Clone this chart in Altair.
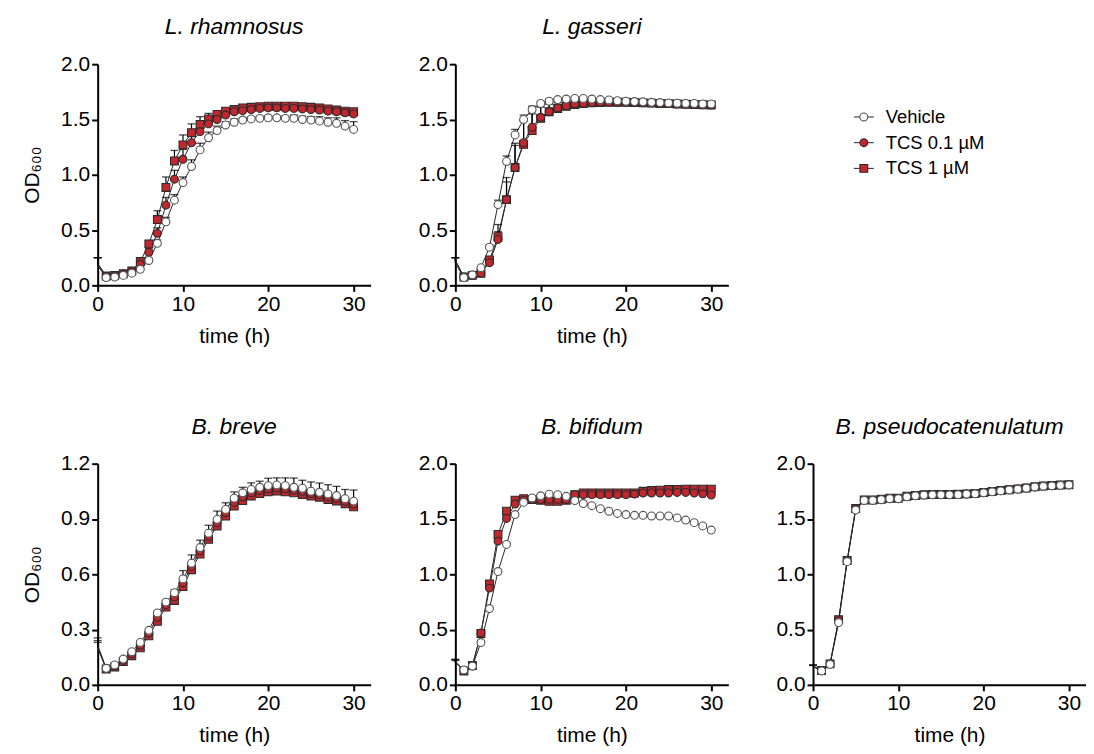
import altair as alt
import pandas as pd

HOURS = list(range(31))
SERIES = ["Vehicle", "TCS 0.1 µM", "TCS 1 µM"]
TITLES = ["L. rhamnosus", "L. gasseri", "B. breve", "B. bifidum", "B. pseudocatenulatum"]

# ---- L. rhamnosus ----
rham_veh = [0.18, 0.07, 0.075, 0.09, 0.11, 0.145, 0.225, 0.38, 0.575, 0.77, 0.93, 1.075, 1.225, 1.335, 1.40, 1.45,
            1.475, 1.495, 1.505, 1.51, 1.515, 1.515, 1.51, 1.51, 1.50, 1.495, 1.485, 1.475, 1.465, 1.44, 1.41]
rham_veh_sd = [0.07, 0.01, 0.01, 0.01, 0.01, 0.01, 0.02, 0.03, 0.04, 0.05, 0.05, 0.06, 0.06, 0.05, 0.04, 0.03,
               0.03, 0.02, 0.02, 0.02, 0.02, 0.02, 0.02, 0.03, 0.03, 0.03, 0.04, 0.04, 0.05, 0.05, 0.07]
rham_t01 = [0.19, 0.08, 0.085, 0.10, 0.125, 0.19, 0.30, 0.47, 0.725, 0.96, 1.14, 1.29, 1.39, 1.46, 1.50, 1.54,
            1.57, 1.58, 1.59, 1.60, 1.605, 1.605, 1.60, 1.60, 1.595, 1.59, 1.585, 1.575, 1.57, 1.56, 1.55]
rham_t01_sd = [0.06, 0.01, 0.01, 0.01, 0.01, 0.02, 0.03, 0.05, 0.07, 0.08, 0.09, 0.08, 0.07, 0.05, 0.04, 0.03,
               0.03, 0.02, 0.02, 0.02, 0.02, 0.02, 0.02, 0.02, 0.02, 0.02, 0.02, 0.02, 0.02, 0.02, 0.02]
rham_t1 = [0.20, 0.085, 0.09, 0.105, 0.13, 0.215, 0.375, 0.595, 0.885, 1.125, 1.27, 1.38, 1.455, 1.505, 1.545, 1.575,
           1.59, 1.605, 1.61, 1.615, 1.62, 1.62, 1.62, 1.62, 1.615, 1.61, 1.605, 1.595, 1.585, 1.575, 1.57]
rham_t1_sd = [0.05, 0.01, 0.01, 0.01, 0.01, 0.02, 0.03, 0.08, 0.095, 0.095, 0.09, 0.08, 0.07, 0.05, 0.03, 0.02,
              0.02, 0.02, 0.02, 0.02, 0.02, 0.02, 0.02, 0.02, 0.02, 0.02, 0.02, 0.02, 0.02, 0.02, 0.02]

# ---- L. gasseri ----
gass_veh = [0.20, 0.07, 0.095, 0.16, 0.345, 0.73, 1.12, 1.36, 1.50, 1.59, 1.645, 1.665, 1.68, 1.685, 1.69, 1.69,
            1.685, 1.68, 1.677, 1.67, 1.665, 1.662, 1.66, 1.655, 1.653, 1.65, 1.647, 1.645, 1.645, 1.64, 1.64]
gass_veh_sd = [0.05, 0.01, 0.01, 0.01, 0.02, 0.04, 0.05, 0.05, 0.04, 0.03, 0.02, 0.02, 0.01, 0.01, 0.01, 0.01,
               0.01, 0.01, 0.01, 0.01, 0.01, 0.01, 0.01, 0.01, 0.01, 0.01, 0.01, 0.01, 0.01, 0.01, 0.01]
gass_t01 = [0.22, 0.075, 0.09, 0.11, 0.205, 0.415, 0.775, 1.065, 1.29, 1.43, 1.52, 1.57, 1.605, 1.625, 1.64, 1.647,
            1.653, 1.655, 1.655, 1.655, 1.655, 1.653, 1.65, 1.648, 1.645, 1.643, 1.64, 1.638, 1.635, 1.633, 1.63]
gass_t01_sd = [0.03, 0.01, 0.01, 0.01, 0.03, 0.07, 0.16, 0.20, 0.20, 0.14, 0.10, 0.07, 0.05, 0.03, 0.02, 0.01,
               0.01, 0.01, 0.01, 0.01, 0.01, 0.01, 0.01, 0.01, 0.01, 0.01, 0.01, 0.01, 0.01, 0.01, 0.01]
gass_t1 = [0.23, 0.075, 0.09, 0.11, 0.23, 0.44, 0.775, 1.065, 1.275, 1.40, 1.51, 1.57, 1.60, 1.62, 1.635, 1.645,
           1.65, 1.653, 1.655, 1.655, 1.655, 1.653, 1.65, 1.648, 1.645, 1.643, 1.64, 1.638, 1.635, 1.633, 1.63]
gass_t1_sd = [0.02, 0.01, 0.01, 0.01, 0.03, 0.11, 0.20, 0.22, 0.21, 0.15, 0.10, 0.07, 0.05, 0.03, 0.02, 0.01,
              0.01, 0.01, 0.01, 0.01, 0.01, 0.01, 0.01, 0.01, 0.01, 0.01, 0.01, 0.01, 0.01, 0.01, 0.01]

# ---- B. breve ----
brev_veh = [0.215, 0.09, 0.108, 0.14, 0.18, 0.23, 0.296, 0.39, 0.449, 0.50, 0.575, 0.66, 0.745, 0.823, 0.898, 0.952,
            1.013, 1.042, 1.06, 1.072, 1.081, 1.085, 1.081, 1.072, 1.067, 1.051, 1.045, 1.036, 1.027, 1.01, 0.997]
brev_veh_sd = [0.04, 0.01, 0.01, 0.01, 0.01, 0.01, 0.01, 0.01, 0.01, 0.015, 0.045, 0.045, 0.04, 0.043, 0.045, 0.036,
               0.034, 0.03, 0.036, 0.033, 0.04, 0.038, 0.042, 0.05, 0.043, 0.05, 0.05, 0.05, 0.05, 0.05, 0.06]
brev_t01 = [0.21, 0.088, 0.102, 0.133, 0.169, 0.215, 0.28, 0.367, 0.435, 0.478, 0.553, 0.642, 0.727, 0.806, 0.88, 0.934,
            0.99, 1.02, 1.042, 1.055, 1.064, 1.068, 1.064, 1.057, 1.05, 1.038, 1.031, 1.021, 1.012, 0.996, 0.981]
brev_t01_sd = [0.03, 0.01, 0.01, 0.01, 0.01, 0.01, 0.01, 0.01, 0.01, 0.01, 0.02, 0.02, 0.02, 0.02, 0.02, 0.02,
               0.02, 0.02, 0.02, 0.02, 0.02, 0.02, 0.02, 0.02, 0.02, 0.02, 0.02, 0.02, 0.02, 0.02, 0.02]
brev_t1 = [0.20, 0.086, 0.097, 0.126, 0.158, 0.201, 0.266, 0.345, 0.422, 0.458, 0.533, 0.625, 0.71, 0.79, 0.862, 0.916,
           0.97, 1.0, 1.024, 1.038, 1.047, 1.051, 1.047, 1.042, 1.033, 1.024, 1.018, 1.006, 0.997, 0.983, 0.966]
brev_t1_sd = [0.03, 0.01, 0.01, 0.01, 0.01, 0.01, 0.01, 0.01, 0.01, 0.01, 0.02, 0.02, 0.02, 0.02, 0.02, 0.02,
              0.02, 0.02, 0.02, 0.02, 0.02, 0.02, 0.02, 0.02, 0.02, 0.02, 0.02, 0.02, 0.02, 0.02, 0.02]

# ---- B. bifidum ----
bifi_veh = [0.20, 0.135, 0.17, 0.383, 0.69, 1.025, 1.27, 1.54, 1.65, 1.69, 1.71, 1.725, 1.72, 1.705, 1.667, 1.64,
            1.62, 1.593, 1.57, 1.55, 1.54, 1.533, 1.533, 1.527, 1.527, 1.527, 1.51, 1.49, 1.467, 1.437, 1.40]
bifi_veh_sd = [0.02, 0.01, 0.01, 0.01, 0.01, 0.01, 0.01, 0.01, 0.01, 0.01, 0.01, 0.01, 0.01, 0.01, 0.01, 0.01,
               0.01, 0.01, 0.01, 0.01, 0.01, 0.01, 0.01, 0.01, 0.01, 0.01, 0.01, 0.01, 0.01, 0.01, 0.01]
bifi_t01 = [0.21, 0.13, 0.17, 0.47, 0.875, 1.30, 1.505, 1.635, 1.67, 1.677, 1.677, 1.677, 1.677, 1.677, 1.72, 1.72,
            1.72, 1.72, 1.72, 1.72, 1.72, 1.725, 1.735, 1.735, 1.735, 1.735, 1.74, 1.74, 1.735, 1.728, 1.716]
bifi_t01_sd = [0.02, 0.01, 0.01, 0.01, 0.01, 0.01, 0.01, 0.01, 0.01, 0.01, 0.01, 0.01, 0.01, 0.01, 0.01, 0.01,
               0.01, 0.01, 0.01, 0.01, 0.01, 0.01, 0.01, 0.01, 0.01, 0.01, 0.01, 0.01, 0.01, 0.01, 0.01]
bifi_t1 = [0.21, 0.125, 0.175, 0.464, 0.913, 1.36, 1.57, 1.67, 1.683, 1.677, 1.67, 1.66, 1.66, 1.67, 1.72, 1.735,
           1.735, 1.735, 1.735, 1.735, 1.735, 1.735, 1.75, 1.757, 1.76, 1.766, 1.766, 1.77, 1.77, 1.77, 1.77]
bifi_t1_sd = [0.02, 0.01, 0.01, 0.01, 0.01, 0.01, 0.01, 0.01, 0.01, 0.01, 0.01, 0.01, 0.01, 0.01, 0.01, 0.01,
              0.01, 0.01, 0.01, 0.01, 0.01, 0.01, 0.01, 0.01, 0.01, 0.01, 0.01, 0.01, 0.01, 0.01, 0.01]

# ---- B. pseudocatenulatum ----
pseu_veh = [0.165, 0.126, 0.186, 0.563, 1.114, 1.581, 1.668, 1.668, 1.674, 1.683, 1.683, 1.70, 1.71, 1.716, 1.719, 1.719,
            1.719, 1.72, 1.725, 1.728, 1.737, 1.746, 1.754, 1.763, 1.77, 1.778, 1.79, 1.796, 1.80, 1.805, 1.808]
pseu_veh_sd = [0.01, 0.01, 0.01, 0.01, 0.01, 0.01, 0.01, 0.01, 0.01, 0.01, 0.01, 0.01, 0.01, 0.01, 0.01, 0.01,
               0.01, 0.01, 0.01, 0.01, 0.01, 0.01, 0.01, 0.01, 0.01, 0.01, 0.01, 0.01, 0.01, 0.01, 0.01]
pseu_t01 = [0.17, 0.128, 0.19, 0.58, 1.12, 1.59, 1.67, 1.67, 1.676, 1.686, 1.686, 1.703, 1.712, 1.718, 1.72, 1.72,
            1.72, 1.722, 1.726, 1.73, 1.738, 1.748, 1.756, 1.764, 1.771, 1.78, 1.79, 1.797, 1.801, 1.806, 1.809]
pseu_t01_sd = [0.01, 0.01, 0.01, 0.01, 0.01, 0.01, 0.01, 0.01, 0.01, 0.01, 0.01, 0.01, 0.01, 0.01, 0.01, 0.01,
               0.01, 0.01, 0.01, 0.01, 0.01, 0.01, 0.01, 0.01, 0.01, 0.01, 0.01, 0.01, 0.01, 0.01, 0.01]
pseu_t1 = [0.17, 0.13, 0.19, 0.59, 1.125, 1.595, 1.672, 1.672, 1.678, 1.688, 1.688, 1.705, 1.713, 1.719, 1.721, 1.721,
           1.721, 1.723, 1.727, 1.731, 1.739, 1.749, 1.757, 1.765, 1.772, 1.781, 1.791, 1.798, 1.802, 1.807, 1.81]
pseu_t1_sd = [0.01, 0.01, 0.01, 0.01, 0.01, 0.01, 0.01, 0.01, 0.01, 0.01, 0.01, 0.01, 0.01, 0.01, 0.01, 0.01,
              0.01, 0.01, 0.01, 0.01, 0.01, 0.01, 0.01, 0.01, 0.01, 0.01, 0.01, 0.01, 0.01, 0.01, 0.01]

RED = "#c1272d"
FONT = "Liberation Sans"
W, H = 274, 222

shape_scale = alt.Scale(domain=SERIES, range=["circle", "circle", "square"])
fill_scale = alt.Scale(domain=SERIES, range=["white", RED, RED])
stroke_scale = alt.Scale(domain=SERIES, range=["#555555", "#2b2b2b", "#2b2b2b"])


def make_df(veh, veh_sd, t01, t01_sd, t1, t1_sd):
    rows = []
    for rank, (name, vals, sds) in enumerate([(SERIES[2], t1, t1_sd), (SERIES[1], t01, t01_sd), (SERIES[0], veh, veh_sd)]):
        for t, v, s in zip(HOURS, vals, sds):
            rows.append({"t": t, "od": v, "hi": round(v + s, 4), "series": name, "rank": rank})
    return pd.DataFrame(rows)


def panel(df, title, ymax, ystep, ytitle):
    yvals = [round(i * ystep, 2) for i in range(int(round(ymax / ystep)) + 1)]
    x = alt.X("t:Q", scale=alt.Scale(domain=[0, 32], nice=False, zero=False),
              axis=alt.Axis(values=[0, 10, 20, 30], title="time (h)", format="d"))
    yaxis = dict(values=yvals, format=".1f")
    yaxis["title"] = "OD₆₀₀" if ytitle else ""
    y = alt.Y("od:Q", scale=alt.Scale(domain=[0, ymax], nice=False), axis=alt.Axis(**yaxis))
    base = alt.Chart(df)
    lines = base.mark_line(color="#262626", strokeWidth=1).encode(
        x=x, y=y, detail="series:N", order="t:Q")
    err = base.mark_rule(color="black", strokeWidth=1.2).encode(
        x="t:Q", y="od:Q", y2="hi:Q")
    cap = base.mark_tick(color="black", orient="horizontal", size=8, thickness=1.3).encode(
        x="t:Q", y="hi:Q")
    pts = base.transform_filter("datum.t > 0").mark_point(filled=True, size=62, strokeWidth=1.1, opacity=1).encode(
        x="t:Q", y="od:Q",
        shape=alt.Shape("series:N", scale=shape_scale, legend=None),
        fill=alt.Fill("series:N", scale=fill_scale, legend=None),
        stroke=alt.Stroke("series:N", scale=stroke_scale, legend=None),
        order=alt.Order("rank:Q"))
    return alt.layer(lines, err, cap, pts).properties(
        width=W, height=H, title=alt.TitleParams(title, fontStyle="italic"))


df1 = make_df(rham_veh, rham_veh_sd, rham_t01, rham_t01_sd, rham_t1, rham_t1_sd)
df2 = make_df(gass_veh, gass_veh_sd, gass_t01, gass_t01_sd, gass_t1, gass_t1_sd)
df3 = make_df(brev_veh, brev_veh_sd, brev_t01, brev_t01_sd, brev_t1, brev_t1_sd)
df4 = make_df(bifi_veh, bifi_veh_sd, bifi_t01, bifi_t01_sd, bifi_t1, bifi_t1_sd)
df5 = make_df(pseu_veh, pseu_veh_sd, pseu_t01, pseu_t01_sd, pseu_t1, pseu_t1_sd)

p1 = panel(df1, TITLES[0], 2.0, 0.5, True)
p2 = panel(df2, TITLES[1], 2.0, 0.5, False)
p3 = panel(df3, TITLES[2], 1.2, 0.3, True)
p4 = panel(df4, TITLES[3], 2.0, 0.5, False)
p5 = panel(df5, TITLES[4], 2.0, 0.5, False)

# legend built from the series table
leg_df = pd.DataFrame({"series": SERIES})
leg_y = alt.Y("series:N", sort=SERIES, axis=None,
              scale=alt.Scale(type="point", range=[53, 104.6], padding=0))
leg_base = alt.Chart(leg_df)
leg_line = leg_base.mark_rule(color="#262626", strokeWidth=1).encode(
    x=alt.value(41), x2=alt.value(61), y=leg_y)
leg_pts = leg_base.mark_point(filled=True, size=62, strokeWidth=1.1, opacity=1).encode(
    x=alt.value(51), y=leg_y,
    shape=alt.Shape("series:N", scale=shape_scale, legend=None),
    fill=alt.Fill("series:N", scale=fill_scale, legend=None),
    stroke=alt.Stroke("series:N", scale=stroke_scale, legend=None))
leg_txt = leg_base.mark_text(align="left", baseline="middle", fontSize=18.5, font=FONT, color="black").encode(
    x=alt.value(73), y=leg_y, text="series:N")
legend = alt.layer(leg_line, leg_pts, leg_txt).properties(width=W, height=H)

chart = alt.concat(p1, p2, legend, p3, p4, p5, columns=3,
                   spacing={"row": 179, "column": 85}, bounds="flush").properties(
    padding={"left": 13, "top": 7, "right": 0, "bottom": 5}
).configure(font=FONT).configure_view(strokeWidth=0).configure_axis(
    domainColor="black", domainWidth=2, tickColor="black", tickWidth=2, tickSize=6,
    labelFontSize=21, labelColor="black", labelFont=FONT, labelPadding=2,
    titleFontSize=21, titleFontWeight="normal", titleColor="black", titleFont=FONT,
    grid=False, zindex=1, labelFlush=False
).configure_axisY(titlePadding=18).configure_axisX(titlePadding=11).configure_title(
    fontSize=23, fontWeight="normal", color="black", font=FONT, anchor="middle", frame="group", offset=14
)

chart.save("out.html", embed_options={"renderer": "svg", "actions": False})
